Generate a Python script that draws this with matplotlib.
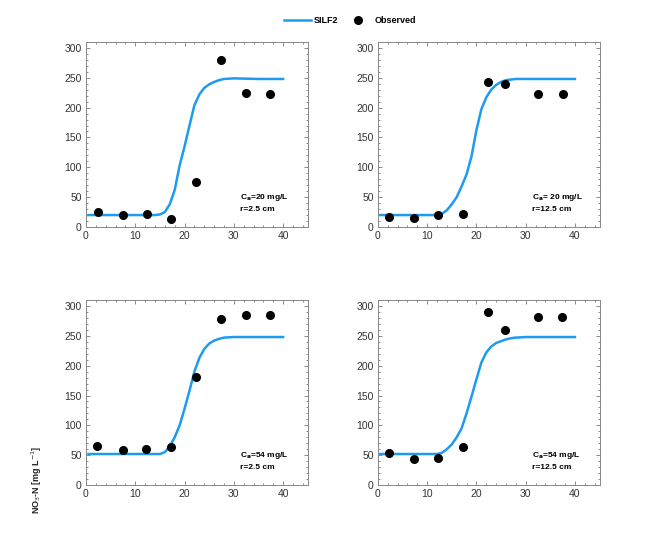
import matplotlib.pyplot as plt
from matplotlib.ticker import MultipleLocator

plt.rcParams['font.family'] = ['Liberation Sans', 'DejaVu Sans']

# depth / time axis of the fitted SILF2 curves
curve_x = [0.5, 12, 13, 14, 15, 16, 17, 18, 19, 20, 21, 22, 23, 24, 25, 26, 27, 28, 30, 35, 40]

# fitted curves
silf_tl = [20, 20, 20, 20, 21, 25, 38, 62, 103, 135, 170, 204, 222, 233, 239, 243, 246, 248, 249, 248, 248]
silf_tr = [20, 20, 22, 28, 38, 50, 68, 88, 118, 162, 197, 217, 230, 238, 243, 246, 247, 248, 248, 248, 248]
silf_bl = [52, 52, 52, 52, 52, 55, 65, 80, 100, 128, 158, 190, 213, 228, 237, 242, 245, 247, 248, 248, 248]
silf_br = [52, 52, 54, 60, 68, 80, 95, 120, 148, 177, 205, 222, 232, 238, 241, 244, 246, 247, 248, 248, 248]

# observed points
obs_x_tl = [2.5, 7.5, 12.3, 17.3, 22.3, 27.3, 32.5, 37.3]
obs_y_tl = [25, 20, 22, 14, 76, 280, 225, 223]
obs_x_tr = [2.3, 7.3, 12.3, 17.3, 22.3, 25.9, 32.5, 37.5]
obs_y_tr = [16, 15, 20, 22, 243, 239, 223, 223]
obs_x_bl = [2.2, 7.5, 12.2, 17.3, 22.4, 27.3, 32.5, 37.4]
obs_y_bl = [65, 58, 60, 64, 181, 278, 285, 285]
obs_x_br = [2.3, 7.3, 12.3, 17.3, 22.3, 25.9, 32.5, 37.3]
obs_y_br = [53, 43, 46, 64, 290, 260, 282, 281]

labels = [r'C$_\mathbf{a}$=20 mg/L' + '\nr=2.5 cm',
          r'C$_\mathbf{a}$= 20 mg/L' + '\nr=12.5 cm',
          r'C$_\mathbf{a}$=54 mg/L' + '\nr=2.5 cm',
          r'C$_\mathbf{a}$=54 mg/L' + '\nr=12.5 cm']

panels = [
    (silf_tl, obs_x_tl, obs_y_tl, [0.1295, 0.5835, 0.334, 0.3395]),
    (silf_tr, obs_x_tr, obs_y_tr, [0.569, 0.5835, 0.334, 0.3395]),
    (silf_bl, obs_x_bl, obs_y_bl, [0.1295, 0.110, 0.334, 0.3395]),
    (silf_br, obs_x_br, obs_y_br, [0.569, 0.110, 0.334, 0.3395]),
]

blue = '#1e9bf0'
fig = plt.figure(figsize=(6.64, 5.45), dpi=100)

for (silf, ox, oy, pos), lab in zip(panels, labels):
    ax = fig.add_axes(pos)
    ln, = ax.plot(curve_x, silf, color=blue, lw=1.8, label='SILF2', zorder=2)
    pt, = ax.plot(ox, oy, 'o', color='black', ms=5.5, label='Observed', zorder=3)
    ax.set_xlim(0, 45)
    ax.set_ylim(0, 310)
    ax.xaxis.set_major_locator(MultipleLocator(10))
    ax.xaxis.set_minor_locator(MultipleLocator(2))
    ax.yaxis.set_major_locator(MultipleLocator(50))
    ax.yaxis.set_minor_locator(MultipleLocator(10))
    ax.tick_params(which='both', direction='in', top=True, right=True,
                   labelsize=7.5, labelcolor='#333333', color='#777777', width=0.6)
    ax.tick_params(which='major', length=3, pad=3)
    ax.tick_params(which='minor', length=1.5)
    for s in ax.spines.values():
        s.set_color('#888888')
        s.set_linewidth(0.7)
    ax.text(31.2, 24, lab, fontsize=6, fontweight='bold',
            ha='left', va='bottom', linespacing=1.6)

fig.legend([ln, pt], ['SILF2', 'Observed'], loc='center', bbox_to_anchor=(0.527, 0.963),
           ncol=2, frameon=False, prop={'size': 6.5, 'weight': 'bold'},
           handlelength=3, columnspacing=0.6, handletextpad=0.4)

fig.text(0.055, 0.12, r'NO$_3$-N [mg L$^{-1}$]', rotation=90, fontsize=6.5,
         fontweight='bold', ha='center', va='center', color='#222222')

plt.savefig('out.png', dpi=100)
plt.close()
